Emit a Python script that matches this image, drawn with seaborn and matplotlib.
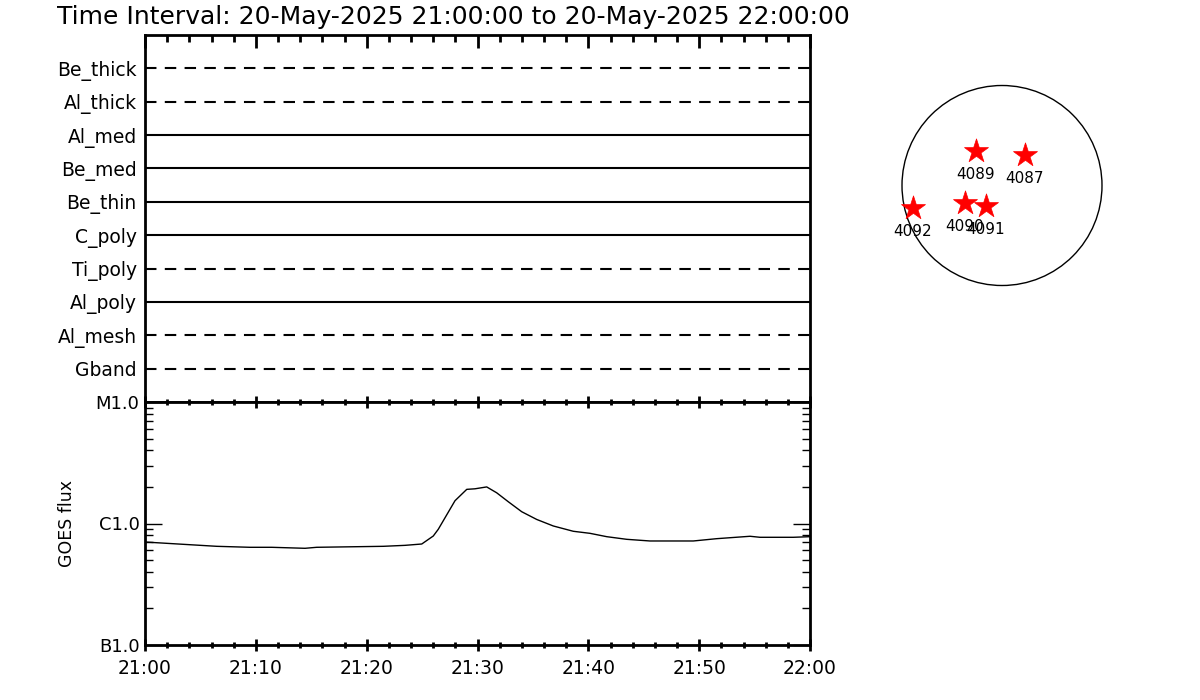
import numpy as np
import pandas as pd
import matplotlib
matplotlib.use("Agg")
import matplotlib.pyplot as plt
from matplotlib.patches import Circle
import seaborn as sns

sns.set_theme(style="white")
plt.rcParams['font.family'] = ['DejaVu Sans']
plt.rcParams['text.color'] = 'black'
plt.rcParams['xtick.color'] = 'black'
plt.rcParams['ytick.color'] = 'black'
plt.rcParams['axes.labelcolor'] = 'black'

# ---------------- data ----------------
title = "Time Interval: 20-May-2025 21:00:00 to 20-May-2025 22:00:00"
channels = ["Be_thick", "Al_thick", "Al_med", "Be_med", "Be_thin",
            "C_poly", "Ti_poly", "Al_poly", "Al_mesh", "Gband"]
channel_dashed = [True, True, False, False, False, False, True, False, True, True]

goes_minutes = [0, 3.46, 6.47, 9.47, 11.43, 14.44, 15.49, 21.50, 23.46, 24.97,
                26.01, 26.46, 27.97, 29.03, 29.77, 30.83, 31.73, 32.78, 33.99,
                35.34, 36.84, 38.64, 40.15, 41.66, 43.46, 45.56, 49.47, 51.58,
                54.59, 55.49, 58.49, 60]
goes_flux = [7.04e-7, 6.74e-7, 6.49e-7, 6.37e-7, 6.37e-7, 6.25e-7, 6.37e-7, 6.49e-7,
             6.61e-7, 6.78e-7, 7.89e-7, 8.96e-7, 1.54e-6, 1.91e-6, 1.93e-6, 2.00e-6,
             1.79e-6, 1.51e-6, 1.25e-6, 1.08e-6, 9.54e-7, 8.63e-7, 8.30e-7, 7.79e-7,
             7.41e-7, 7.18e-7, 7.18e-7, 7.50e-7, 7.85e-7, 7.70e-7, 7.70e-7, 7.79e-7]

time_tick_minutes = [0, 10, 20, 30, 40, 50, 60]
time_tick_labels = ["21:00", "21:10", "21:20", "21:30", "21:40", "21:50", "22:00"]
flux_tick_values = [1e-7, 1e-6, 1e-5]
flux_tick_labels = ["B1.0", "C1.0", "M1.0"]

ar_numbers = ["4089", "4087", "4092", "4090", "4091"]
ar_x = [-0.26, 0.23, -0.89, -0.37, -0.16]
ar_y = [0.35, 0.31, -0.22, -0.17, -0.20]

# ---------------- figure ----------------
W, H = 1200, 700
fig = plt.figure(figsize=(W / 100, H / 100), dpi=100)
fig.patch.set_facecolor("white")

def frac(x0, y0, x1, y1):
    return [x0 / W, 1 - y1 / H, (x1 - x0) / W, (y1 - y0) / H]

ax_top = fig.add_axes(frac(145, 35, 810, 402))
ax_low = fig.add_axes(frac(145, 402, 810, 645))
ax_sun = fig.add_axes(frac(882, 65.5, 1122, 305.5))

fig.text(57 / W, 1 - 24 / H, title, fontsize=18, color="black",
         ha="left", va="baseline")

# top panel: channel lines
n = len(channels)
for i, (ch, dashed) in enumerate(zip(channels, channel_dashed)):
    ypos = n - i
    df = pd.DataFrame({"t": [0, 60], "y": [ypos, ypos]})
    sns.lineplot(data=df, x="t", y="y", ax=ax_top, color="black", lw=1.5,
                 linestyle=(0, (5.5, 4)) if dashed else "-")
ax_top.set_xlim(0, 60)
ax_top.set_ylim(0, n + 1)
ax_top.set_yticks([n - i for i in range(n)])
ax_top.set_yticklabels(channels, fontsize=13.5, color="black")
ax_top.set_xlabel("")
ax_top.set_ylabel("")
ax_top.xaxis.set_ticks_position("top")
ax_top.set_xticks(time_tick_minutes)
ax_top.set_xticks(np.arange(0, 61, 2), minor=True)
ax_top.tick_params(axis="x", which="major", direction="in", length=9, width=2,
                   labeltop=False, labelbottom=False, top=True, bottom=False)
ax_top.tick_params(axis="x", which="minor", direction="in", length=5, width=2,
                   top=True, bottom=False)
ax_top.tick_params(axis="y", length=0, pad=6)

# lower panel: GOES flux
gdf = pd.DataFrame({"t": goes_minutes, "flux": goes_flux})
sns.lineplot(data=gdf, x="t", y="flux", ax=ax_low, color="black", lw=1.0)
ax_low.set_yscale("log")
ax_low.set_xlim(0, 60)
ax_low.set_ylim(1e-7, 1e-5)
ax_low.set_yticks(flux_tick_values)
ax_low.set_yticklabels(flux_tick_labels, fontsize=13, color="black")
minor_vals = [m * 10.0 ** e for e in (-7, -6) for m in range(2, 10)]
ax_low.set_yticks(minor_vals, minor=True)
ax_low.yaxis.set_minor_formatter(matplotlib.ticker.NullFormatter())
ax_low.tick_params(axis="y", which="major", direction="in", length=12, width=1,
                   left=True, right=True, pad=4)
ax_low.tick_params(axis="y", which="minor", direction="in", length=6, width=1,
                   left=True, right=True)
ax_low.set_xticks(time_tick_minutes)
ax_low.set_xticklabels(time_tick_labels, fontsize=13.5, color="black")
ax_low.set_xticks(np.arange(0, 61, 2), minor=True)
ax_low.tick_params(axis="x", which="major", direction="inout", length=8, width=2,
                   top=True, bottom=True, pad=6)
ax_low.tick_params(axis="x", which="minor", direction="inout", length=5, width=2,
                   top=True, bottom=True)
ax_low.set_xlabel("")
ax_low.set_ylabel("GOES flux", fontsize=12.5, labelpad=14, color="black")

for ax in (ax_top, ax_low):
    for sp in ax.spines.values():
        sp.set_visible(True)
        sp.set_color("black")
        sp.set_linewidth(2)
    ax.set_facecolor("white")
    ax.grid(False)

# solar disk with active regions
ax_sun.add_patch(Circle((0, 0), 1.0, fill=False, edgecolor="black", lw=1))
sdf = pd.DataFrame({"x": ar_x, "y": ar_y, "ar": ar_numbers})
sns.scatterplot(data=sdf, x="x", y="y", ax=ax_sun, marker="*", s=330,
                color="red", edgecolor="red", linewidth=0.5, legend=False)
for xv, yv, lab in zip(ar_x, ar_y, ar_numbers):
    ax_sun.annotate(lab, (xv, yv), xytext=(0, -12), textcoords="offset points",
                    ha="center", va="top", fontsize=11, color="black")
ax_sun.set_xlim(-1.2, 1.2)
ax_sun.set_ylim(-1.2, 1.2)
ax_sun.set_aspect("equal")
ax_sun.axis("off")

fig.savefig("out.png", dpi=100, facecolor="white")
